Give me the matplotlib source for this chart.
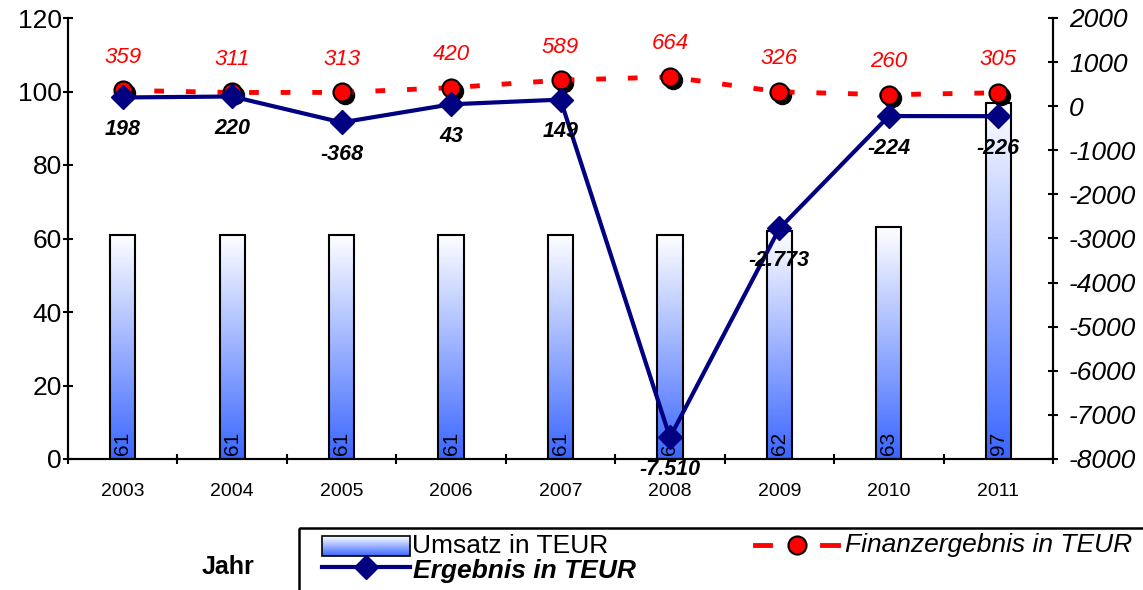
import numpy as np
import matplotlib
matplotlib.use("Agg")
import matplotlib.pyplot as plt
import matplotlib.transforms as mtransforms
from matplotlib.colors import LinearSegmentedColormap
from matplotlib.patches import Rectangle
from matplotlib.lines import Line2D

plt.rcParams["font.family"] = ["Liberation Sans", "DejaVu Sans"]

# ---- data ---------------------------------------------------------------
years = ["2003", "2004", "2005", "2006", "2007", "2008", "2009", "2010", "2011"]
umsatz = [61, 61, 61, 61, 61, 61, 62, 63, 97]                       # left axis
ergebnis = [198, 220, -368, 43, 149, -7510, -2773, -224, -226]      # right axis
finanz = [359, 311, 313, 420, 589, 664, 326, 260, 305]              # right axis
left_ticks = [0, 20, 40, 60, 80, 100, 120]
right_ticks = [-8000, -7000, -6000, -5000, -4000, -3000, -2000, -1000, 0, 1000, 2000]


def de_number(v):
    """German thousands separator: -7510 -> -7.510"""
    s = f"{abs(v):,}".replace(",", ".")
    return ("-" if v < 0 else "") + s


W, H = 1143, 590
fig = plt.figure(figsize=(W / 100, H / 100), dpi=100)
ax = fig.add_axes([68 / W, 1 - 459 / H, 985 / W, 441 / H])
ax2 = ax.twinx()

NAVY = "#000080"
blue_grad = LinearSegmentedColormap.from_list("umsatz", ["#3a66ff", "#ffffff"])
grad = np.linspace(0, 1, 256).reshape(-1, 1)

x = np.arange(len(years))
bw = 0.23

# ---- gradient bars ------------------------------------------------------
bars = ax.bar(x, umsatz, width=bw, facecolor="none", edgecolor="black",
              linewidth=1.5, zorder=3)
for rect, v, xi in zip(bars, umsatz, x):
    x0 = rect.get_x()
    ax.imshow(grad, extent=[x0, x0 + bw, 0, v], origin="lower", aspect="auto",
              cmap=blue_grad, interpolation="bilinear", zorder=2)
    ax.text(xi, 1.0, str(v), rotation=90, ha="center", va="bottom",
            fontsize=15, color="black", zorder=4)

ax.set_xlim(-0.5, len(years) - 0.5)
ax.set_ylim(0, 120)
ax.set_yticks(left_ticks)
ax.set_yticklabels([str(t) for t in left_ticks])
ax.set_xticks(x)
ax.set_xticklabels(years, fontsize=14)
ax.set_xticks(np.arange(-0.5, len(years), 1.0), minor=True)
ax.tick_params(axis="x", which="major", length=0, pad=17)
ax.tick_params(axis="x", which="minor", direction="inout", length=7, width=1.5)
ax.tick_params(axis="y", direction="inout", length=7, width=1.5, labelsize=19, pad=1)

# ---- lines on the secondary axis ---------------------------------------
ax2.set_ylim(-8000, 2000)
ax2.set_yticks(right_ticks)
ax2.set_yticklabels([str(t) for t in right_ticks], fontstyle="italic")
ax2.tick_params(axis="y", direction="inout", length=7, width=1.5, labelsize=19, pad=8)

shadow = mtransforms.offset_copy(ax2.transData, fig=fig, x=3, y=-3, units="dots")
ax2.plot(x, finanz, "o", ms=13, color="black", transform=shadow, zorder=2)
ax2.plot(x, finanz, color="red", lw=3.5, dashes=(2, 4.5), zorder=3)
ax2.plot(x, finanz, "o", ms=13, mfc="red", mec="black", mew=1.5, ls="none", zorder=4)
ax2.plot(x, ergebnis, color=NAVY, lw=3, marker="D", ms=12, zorder=5)

for xi, v in zip(x, finanz):
    ax2.annotate(de_number(v), (xi, v), xytext=(0, 33), textcoords="offset pixels",
                 ha="center", va="center", color="red", fontstyle="italic",
                 fontsize=16, zorder=6)
for xi, v in zip(x, ergebnis):
    ax2.annotate(de_number(v), (xi, v), xytext=(0, -32), textcoords="offset pixels",
                 ha="center", va="center", color="black", fontstyle="italic",
                 fontweight="bold", fontsize=15.5, zorder=6)

for a in (ax, ax2):
    a.spines["top"].set_visible(False)
    for s in ("left", "right", "bottom"):
        a.spines[s].set_linewidth(1.5)

# ---- legend and axis title (pixel coordinates) -------------------------
lax = fig.add_axes([0, 0, 1, 1])
lax.set_xlim(0, W)
lax.set_ylim(H, 0)
lax.axis("off")

lax.add_patch(Rectangle((299, 528), 900, 120, fill=False, ec="black", lw=1.8,
                        clip_on=False))
lax.imshow(grad, extent=(322, 410, 556, 536), origin="lower", aspect="auto",
           cmap=blue_grad, interpolation="bilinear")
lax.add_patch(Rectangle((322, 536), 88, 20, fill=False, ec="black", lw=1.2))
lax.text(412, 546, "Umsatz in TEUR", fontsize=19, va="center", ha="left")

lax.add_line(Line2D([322, 410], [567, 567], color=NAVY, lw=3))
lax.add_line(Line2D([366], [567], color=NAVY, marker="D", ms=12))
lax.text(413, 571, "Ergebnis in TEUR", fontsize=19, va="center", ha="left",
         fontweight="bold", fontstyle="italic")

lax.add_line(Line2D([755, 770], [545, 545], color="red", lw=3.5))
lax.add_line(Line2D([822, 838], [545, 545], color="red", lw=3.5))
lax.add_line(Line2D([797], [545], marker="o", ms=13, mfc="red", mec="black", mew=1.5))
lax.text(845, 545, "Finanzergebnis in TEUR", fontsize=19, va="center", ha="left",
         fontstyle="italic")

lax.text(228, 567, "Jahr", fontsize=18, fontweight="bold", ha="center", va="center")
lax.set_xlim(0, W)
lax.set_ylim(H, 0)

fig.savefig("out.png", dpi=100)
